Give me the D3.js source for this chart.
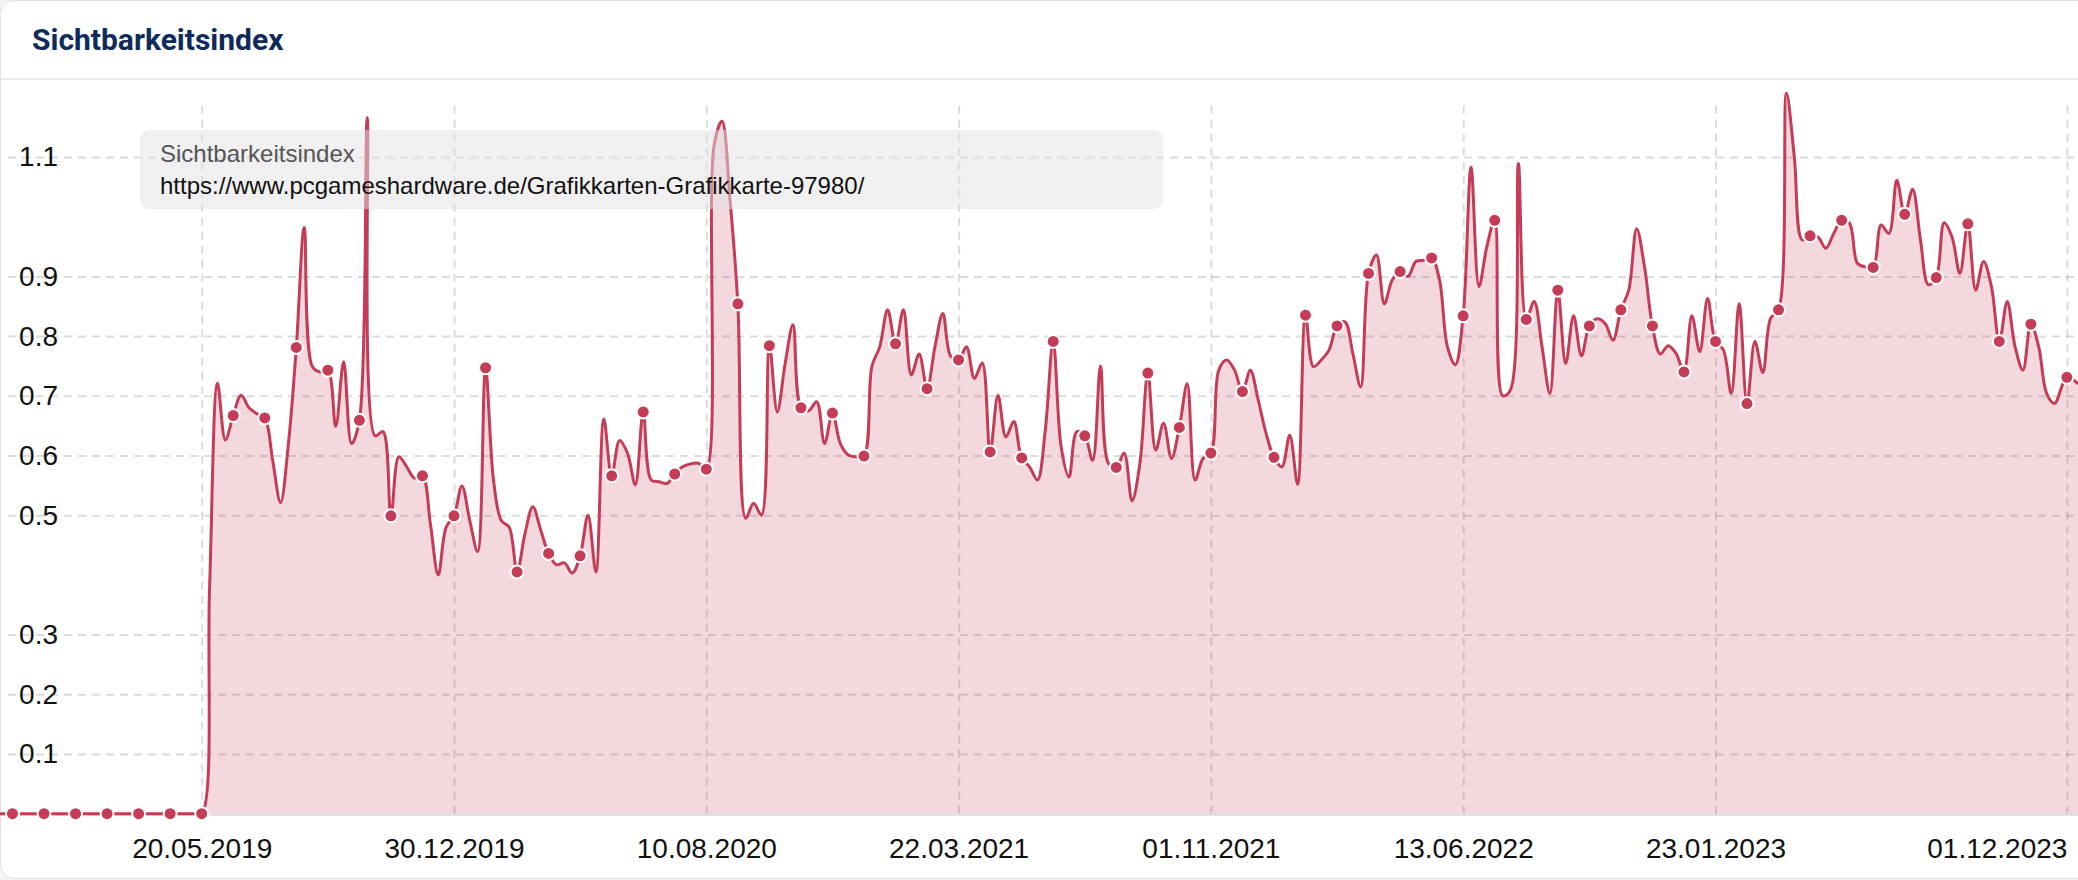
<!DOCTYPE html>
<html><head><meta charset="utf-8">
<script src="https://cdn.jsdelivr.net/npm/d3@7"></script>
<style>
html,body{margin:0;padding:0;background:#f4f4f4;}
svg{display:block;}
</style></head><body>
<svg id="chart" width="2078" height="880"></svg>
<script>
// ---------- data ----------
const cardTitle = "Sichtbarkeitsindex";
const legendTitle = "Sichtbarkeitsindex";
const legendUrl = "https://www.pcgameshardware.de/Grafikkarten-Grafikkarte-97980/";

// weekly values (Mondays), first week 05.11.2018
const firstWeek = "2018-11-05";
const weeksBeforeStart = [0,0,0,0,0,0,0,0,0,0,0,0,0,0,0,0,0,0,0,0,0,0,0,0,0,0,0,0];
const weeks2019 = [0,0.38,0.721,0.626,0.667,0.701,0.68,0.67,0.663,0.592,0.521,0.62,0.781,0.982,0.75,0.74,0.743,0.649,0.757,0.62,0.659,1.166,0.633,0.64,0.499,0.598,0.581,0.562,0.566,0.486,0.4,0.48,0.499,0.549,0.491,0.439,0.747,0.56,0.491,0.48,0.405,0.469,0.514,0.475,0.436,0.417,0.42,0.403];
const weeks2020 = [0.432,0.5,0.405,0.661,0.566,0.625,0.604,0.551,0.673,0.559,0.556,0.553,0.569,0.581,0.586,0.587,0.577,1.12,1.16,1.03,0.854,0.495,0.52,0.5,0.784,0.673,0.754,0.819,0.68,0.675,0.69,0.62,0.671,0.62,0.601,0.598,0.599,0.749,0.782,0.844,0.787,0.844,0.735,0.77,0.712,0.782,0.838];
const weeks2021 = [0.766,0.76,0.782,0.729,0.755,0.606,0.701,0.631,0.657,0.596,0.581,0.559,0.643,0.791,0.615,0.564,0.64,0.633,0.592,0.75,0.587,0.58,0.604,0.524,0.587,0.738,0.609,0.654,0.595,0.647,0.72,0.559,0.595,0.604,0.743,0.76,0.743,0.707,0.743,0.693,0.637,0.597,0.581,0.634,0.552,0.835,0.749];
const weeks2022 = [0.76,0.777,0.817,0.824,0.771,0.715,0.905,0.936,0.854,0.894,0.908,0.9,0.925,0.927,0.931,0.894,0.782,0.752,0.834,1.083,0.883,0.95,0.994,0.7,0.71,1.089,0.828,0.858,0.782,0.704,0.877,0.754,0.834,0.767,0.817,0.829,0.821,0.793,0.844,0.877,0.98,0.916,0.817,0.77,0.784,0.771,0.74,0.834];
const weeks2023 = [0.774,0.863,0.791,0.777,0.704,0.854,0.687,0.791,0.739,0.83,0.844,1.207,1.1,0.961,0.968,0.966,0.947,0.972,0.994,0.989,0.922,0.916,0.915,0.986,0.972,1.061,1.004,1.046,0.961,0.886,0.898,0.99,0.966,0.905,0.988,0.877,0.925,0.883,0.791,0.858,0.782,0.743,0.82,0.782,0.704,0.687];
const latestDates = ["2023-12-01","2023-12-11"];
const latestValues = [0.731,0.72];
const markerEvery = 4;

const xTickDates = ["2019-05-20","2019-12-30","2020-08-10","2021-03-22","2021-11-01","2022-06-13","2023-01-23","2023-12-01"];
const yTickValues = [0.1,0.2,0.3,0.5,0.6,0.7,0.8,0.9,1.1];

// ---------- build ----------
const parse = d3.utcParse("%Y-%m-%d");
const weekly = [].concat(weeksBeforeStart, weeks2019, weeks2020, weeks2021, weeks2022, weeks2023);
const start = parse(firstWeek);
const data = weekly.map((v,i)=>({date:d3.utcDay.offset(start, 7*i), value:v, marker:i%markerEvery===0}));
latestDates.forEach((d,i)=>data.push({date:parse(d), value:latestValues[i], marker:i===0}));

const W = 2078, H = 880;
const svg = d3.select("#chart");
const lineColor = "#c53c56";
const axisFont = "'Liberation Sans', Arial, Helvetica, sans-serif";

// card
svg.append("rect").attr("x",0.5).attr("y",0.5).attr("width",W+40).attr("height",H-2)
  .attr("rx",14).attr("fill","#fff").attr("stroke","#e2e2e2");
svg.append("line").attr("x1",1).attr("x2",W).attr("y1",79).attr("y2",79)
  .attr("stroke","#ececec").attr("stroke-width",2);
svg.append("text").attr("x",32).attr("y",50).text(cardTitle)
  .attr("font-family","Roboto, sans-serif").attr("font-weight",700).attr("font-size",30)
  .attr("fill","#0f2b5b");

const x = d3.scaleUtc().domain([parse("2019-05-20"), parse("2023-12-01")]).range([201.7, 2066.9]);
const y = d3.scaleLinear().domain([0,1.2]).range([813.7, 97.3]);

const gridColor = "rgba(0,0,0,0.14)";
// horizontal grid
const gy = svg.append("g").attr("transform","translate(8,0)")
  .call(d3.axisLeft(y).tickValues(yTickValues).tickSize(-(W-8)).tickFormat(""));
gy.select(".domain").remove();
gy.selectAll("line").attr("stroke",gridColor).attr("stroke-width",2).attr("stroke-dasharray","8,6");
// vertical grid
const gx = svg.append("g").attr("transform","translate(0,813.7)")
  .call(d3.axisBottom(x).tickValues(xTickDates.map(parse)).tickSize(-(813.7-100)).tickFormat(""));
gx.select(".domain").remove();
gx.selectAll("line").attr("stroke",gridColor).attr("stroke-width",2).attr("stroke-dasharray","8,6");

// baseline
svg.append("line").attr("x1",0).attr("x2",W).attr("y1",y(0)+1).attr("y2",y(0)+1)
  .attr("stroke","#dcdcdc").attr("stroke-width",2);

const curve = d3.curveCatmullRom.alpha(0.5);
const area = d3.area().x(d=>x(d.date)).y0(y(0)).y1(d=>y(d.value)).curve(curve);
const line = d3.line().x(d=>x(d.date)).y(d=>y(d.value)).curve(curve);

svg.append("path").datum(data).attr("d",area).attr("fill",lineColor).attr("fill-opacity",0.2);
svg.append("path").datum(data).attr("d",line).attr("fill","none")
  .attr("stroke",lineColor).attr("stroke-width",3).attr("stroke-linejoin","round");

svg.append("g").selectAll("circle").data(data.filter(d=>d.marker)).join("circle")
  .attr("cx",d=>x(d.date)).attr("cy",d=>y(d.value)).attr("r",6.5)
  .attr("fill",lineColor).attr("stroke","#fff").attr("stroke-width",2);

// y labels
const ya = svg.append("g").attr("transform","translate(58,0)")
  .call(d3.axisLeft(y).tickValues(yTickValues).tickSize(0).tickPadding(0).tickFormat(d3.format(".1f")));
ya.select(".domain").remove();
ya.selectAll("text").attr("font-family",axisFont).attr("font-size",28).attr("fill","#111");

// x labels
const xa = svg.append("g").attr("transform","translate(0,813.7)")
  .call(d3.axisBottom(x).tickValues(xTickDates.map(parse)).tickSize(0).tickFormat(d3.utcFormat("%d.%m.%Y")));
xa.select(".domain").remove();
xa.selectAll("text").attr("y",44).attr("dy",0)
  .attr("font-family",axisFont).attr("font-size",28).attr("fill","#111")
  .attr("text-anchor",(d,i,n)=> i===n.length-1 ? "end" : "middle");

// legend box
svg.append("rect").attr("x",140).attr("y",130).attr("width",1023).attr("height",79).attr("rx",9)
  .attr("fill","rgb(225,225,225)").attr("fill-opacity",0.5);
svg.append("text").attr("x",160).attr("y",162).text(legendTitle)
  .attr("font-family",axisFont).attr("font-size",24).attr("fill","#555");
svg.append("text").attr("x",160).attr("y",194).text(legendUrl)
  .attr("font-family",axisFont).attr("font-size",24).attr("fill","#111");
</script>
</body></html>
